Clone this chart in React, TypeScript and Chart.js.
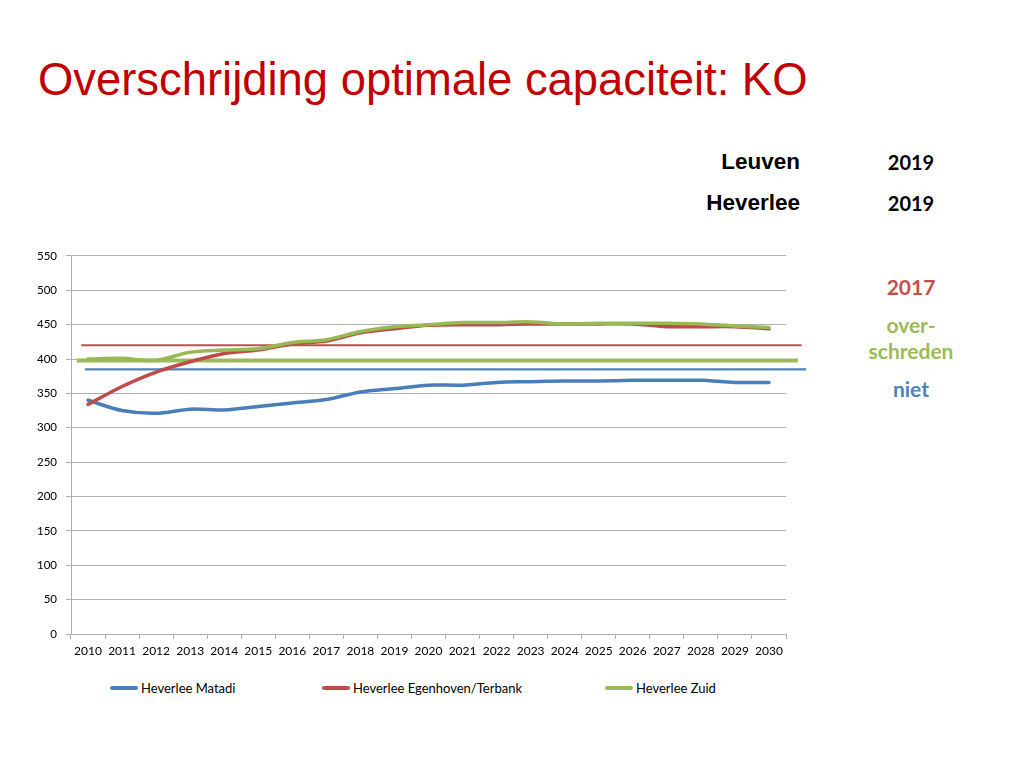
import React, { useEffect, useRef } from "react";
import { Chart, registerables } from "chart.js";

Chart.register(...registerables);

// ---- data ----
const years = [
  "2010", "2011", "2012", "2013", "2014", "2015", "2016", "2017", "2018", "2019", "2020",
  "2021", "2022", "2023", "2024", "2025", "2026", "2027", "2028", "2029", "2030",
];
const seriesNames = ["Heverlee Matadi", "Heverlee Egenhoven/Terbank", "Heverlee Zuid"];
const matadi = [340, 325, 321, 327, 326, 331, 336, 341, 352, 357, 362, 362, 366, 367, 368, 368, 369, 369, 369, 366, 366];
const egenhoven = [334, 360, 381, 396, 408, 413, 422, 426, 438, 444, 449, 450, 450, 451, 451, 451, 451, 447, 447, 447, 444];
const zuid = [400, 401, 398, 410, 413, 415, 424, 428, 440, 447, 450, 453, 453, 454, 451, 452, 452, 452, 451, 448, 446];
const seriesValues = [matadi, egenhoven, zuid];

// optimal capacity per school (horizontal reference lines), in category-index units on x
const capacityValues = [385, 420, 398];
const capacityStart = [-0.09, -0.2, -0.33];
const capacityEnd = [21.09, 20.96, 20.85];

const yTickMax = 550;
const yTickStep = 50;

// side texts
const sideRows = [
  { name: "Leuven", year: "2019" },
  { name: "Heverlee", year: "2019" },
];
const statusTexts = ["2017", "over-", "schreden", "niet"];

// ---- styles ----
const seriesColors = ["#4a7ebb", "#be4b48", "#98b954"];
const capacityColors = ["#4f81bd", "#c0504d", "#9bbb59"];
const capacityWidths = [2.2, 2, 4];
const gridColor = "#b0b0b0";

export default function App() {
  const ref = useRef<HTMLCanvasElement>(null);

  useEffect(() => {
    if (!ref.current) return;
    const xTickFont = { family: "Lato", size: 12 };
    const yTickFont = { family: "Lato", size: 11.5 };
    const datasets: any[] = [];
    seriesValues.forEach((vals, i) => {
      datasets.push({
        label: seriesNames[i],
        data: vals,
        xAxisID: "x",
        borderColor: seriesColors[i],
        backgroundColor: seriesColors[i],
        borderWidth: 3.5,
        pointRadius: 0,
        tension: 0.3,
        borderCapStyle: "round",
        borderJoinStyle: "round",
        order: 2 - i,
      });
    });
    capacityValues.forEach((v, i) => {
      datasets.push({
        label: "Capaciteit " + seriesNames[i],
        data: [
          { x: capacityStart[i], y: v },
          { x: capacityEnd[i], y: v },
        ],
        xAxisID: "x2",
        borderColor: capacityColors[i],
        backgroundColor: capacityColors[i],
        borderWidth: capacityWidths[i],
        pointRadius: 0,
        clip: false,
        order: 5 + i,
      });
    });

    const chart = new Chart(ref.current, {
      type: "line",
      data: { labels: years, datasets },
      options: {
        responsive: false,
        animation: false,
        layout: { padding: { top: 15, right: 30, bottom: 0, left: 0 } },
        plugins: {
          legend: { display: false },
          tooltip: { enabled: false },
        },
        scales: {
          x: {
            type: "category",
            offset: true,
            grid: {
              display: true,
              drawOnChartArea: false,
              drawTicks: true,
              offset: true,
              tickLength: 5,
              color: gridColor,
            },
            border: { color: gridColor },
            ticks: { font: xTickFont, color: "#000", padding: 5, maxRotation: 0, autoSkip: false },
            afterFit: (s: any) => {
              s.height = 30;
            },
          },
          x2: {
            type: "linear",
            display: false,
            min: -0.5,
            max: years.length - 0.5,
          },
          y: {
            min: 0,
            max: yTickMax,
            ticks: { stepSize: yTickStep, font: yTickFont, color: "#000", padding: 9 },
            grid: { color: gridColor, tickLength: 5 },
            border: { color: gridColor },
            afterFit: (s: any) => {
              s.width = 63;
            },
          },
        },
      },
    });
    return () => chart.destroy();
  }, []);

  const boldArial = { fontFamily: "'Liberation Sans', Arial, sans-serif", fontWeight: 700 as const };
  const lato = { fontFamily: "Lato, sans-serif", fontWeight: 700 as const };
  const statusColors = ["#c0504d", "#9bbb59", "#9bbb59", "#4f81bd"];
  const statusTops = [267, 305, 331, 369];
  const legendLefts = [102, 314, 597];

  return (
    <div style={{ position: "relative", width: 1008, height: 752 }}>
      <div
        style={{
          position: "absolute",
          left: 30,
          top: 49,
          fontFamily: "'Liberation Sans', Arial, sans-serif",
          fontSize: 45.4,
          lineHeight: "45px",
          color: "#c00000",
          whiteSpace: "nowrap",
        }}
      >
        Overschrijding optimale capaciteit: KO
      </div>

      {sideRows.map((r, i) => (
        <React.Fragment key={r.name}>
          <div
            style={{
              ...boldArial,
              position: "absolute",
              left: 0,
              width: 792,
              textAlign: "right",
              top: 141 + i * 41,
              fontSize: 22.5,
              lineHeight: "26px",
              color: "#000",
            }}
          >
            {r.name}
          </div>
          <div
            style={{
              ...lato,
              position: "absolute",
              left: 853,
              width: 100,
              textAlign: "center",
              top: 142 + i * 41,
              fontSize: 20,
              lineHeight: "24px",
              color: "#000",
            }}
          >
            {r.year}
          </div>
        </React.Fragment>
      ))}

      {statusTexts.map((t, i) => (
        <div
          key={t}
          style={{
            ...lato,
            position: "absolute",
            left: 853,
            width: 100,
            textAlign: "center",
            top: statusTops[i],
            fontSize: 21,
            lineHeight: "24px",
            color: statusColors[i],
          }}
        >
          {t}
        </div>
      ))}

      <canvas
        ref={ref}
        width={808}
        height={424}
        style={{ position: "absolute", left: 0, top: 232, display: "block" }}
      />

      {seriesNames.map((n, i) => (
        <div
          key={n}
          style={{
            position: "absolute",
            left: legendLefts[i],
            top: 672,
            height: 16,
            display: "flex",
            alignItems: "center",
            fontFamily: "Lato, sans-serif",
            fontSize: 13,
            color: "#000",
            whiteSpace: "nowrap",
          }}
        >
          <span
            style={{ display: "inline-block", width: 28, height: 3.5, background: seriesColors[i], marginRight: 3, borderRadius: 2 }}
          />
          {n}
        </div>
      ))}
    </div>
  );
}
